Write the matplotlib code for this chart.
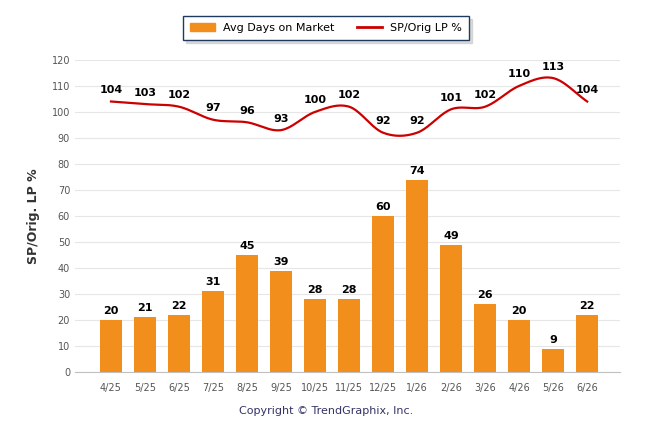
import numpy as np
import matplotlib.pyplot as plt
from matplotlib.patches import Patch
from matplotlib.lines import Line2D

months = ["4/25", "5/25", "6/25", "7/25", "8/25", "9/25", "10/25", "11/25",
          "12/25", "1/26", "2/26", "3/26", "4/26", "5/26", "6/26"]
days_on_market = [20, 21, 22, 31, 45, 39, 28, 28, 60, 74, 49, 26, 20, 9, 22]
sp_orig_lp = [104, 103, 102, 97, 96, 93, 100, 102, 92, 92, 101, 102, 110, 113, 104]

bar_color = "#F18E1C"
line_color = "#CC0000"


def smooth(x, y, n=20):
    # Catmull-Rom curve through the points, for drawing only
    x = np.asarray(x, float)
    y = np.asarray(y, float)
    px = np.concatenate([[2 * x[0] - x[1]], x, [2 * x[-1] - x[-2]]])
    py = np.concatenate([[2 * y[0] - y[1]], y, [2 * y[-1] - y[-2]]])
    xs, ys = [], []
    t = np.linspace(0, 1, n, endpoint=False)
    for i in range(1, len(px) - 2):
        for p, out in ((px, xs), (py, ys)):
            p0, p1, p2, p3 = p[i - 1], p[i], p[i + 1], p[i + 2]
            out.extend(0.5 * (2 * p1 + (-p0 + p2) * t + (2 * p0 - 5 * p1 + 4 * p2 - p3) * t ** 2
                              + (-p0 + 3 * p1 - 3 * p2 + p3) * t ** 3))
    xs.append(x[-1])
    ys.append(y[-1])
    return xs, ys


fig = plt.figure(figsize=(6.46, 4.34), dpi=100)
ax = fig.add_axes([0.116, 0.143, 0.844, 0.719])
x = np.arange(len(months))

ax.bar(x, days_on_market, width=0.64, color=bar_color, zorder=2)
for xi, v in zip(x, days_on_market):
    ax.text(xi, v + 1.5, str(v), ha="center", va="bottom", fontsize=8, fontweight="bold")

sx, sy = smooth(x, sp_orig_lp)
ax.plot(sx, sy, color=line_color, lw=1.6, zorder=3)
for xi, v in zip(x, sp_orig_lp):
    ax.text(xi, v + 2.5, str(v), ha="center", va="bottom", fontsize=8, fontweight="bold")

ax.set_ylim(0, 120)
ax.set_xlim(-1.06, 14.97)
ax.set_yticks(range(0, 121, 10))
ax.set_xticks(x)
ax.set_xticklabels(months)
ax.tick_params(axis="both", labelsize=7, colors="#555555", length=0)
ax.tick_params(axis="x", pad=8)
ax.yaxis.grid(True, color="#E6E6E6", lw=0.8, zorder=0)
for s in ["top", "right", "left"]:
    ax.spines[s].set_visible(False)
ax.spines["bottom"].set_color("#C0C0C0")
ax.set_ylabel("SP/Orig. LP %", fontsize=9, fontweight="bold", color="#333333", labelpad=8)

handles = [Patch(color=bar_color, label="Avg Days on Market"),
           Line2D([], [], color=line_color, lw=2, label="SP/Orig LP %")]
leg = fig.legend(handles=handles, loc="upper center", bbox_to_anchor=(0.505, 0.975), ncol=2,
                 fontsize=8, frameon=True, fancybox=False, shadow={"color": "#BBBBBB"},
                 handlelength=2.2, columnspacing=2.0, borderpad=0.6)
leg.get_frame().set_edgecolor("#1F3A5F")
leg.get_frame().set_linewidth(1.0)

fig.text(0.505, 0.045, "Copyright © TrendGraphix, Inc.", ha="center", fontsize=8, color="#333366")

fig.savefig("out.png", dpi=100)
